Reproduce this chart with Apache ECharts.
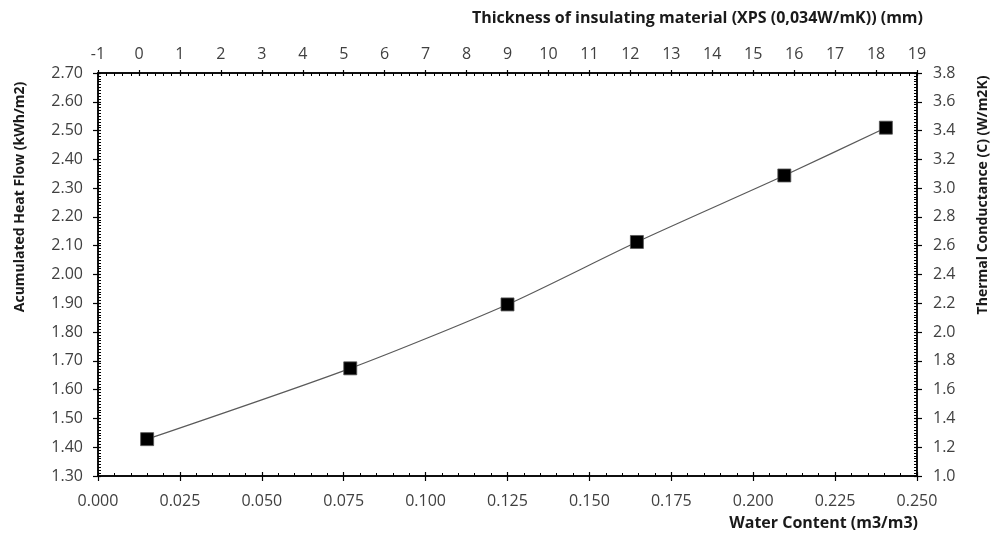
<!DOCTYPE html>
<html>
<head>
<meta charset="utf-8">
<script src="https://cdn.jsdelivr.net/npm/echarts@6/dist/echarts.min.js"></script>
<style>
html,body{margin:0;padding:0;background:#fff;}
#chart{width:993px;height:536px;}
</style>
</head>
<body>
<div id="chart"></div>
<script>
// Data
const waterContent = [0.015, 0.077, 0.125, 0.1645, 0.2095, 0.2405];
const heatFlow = [1.428, 1.674, 1.896, 2.113, 2.344, 2.51];

const bottomAxisName = 'Water Content (m3/m3)';
const topAxisName = 'Thickness of insulating material (XPS (0,034W/mK)) (mm)';
const leftAxisName = 'Acumulated Heat Flow (kWh/m2)';
const rightAxisName = 'Thermal Conductance (C) (W/m2K)';

const FONT = '"Open Sans", "DejaVu Sans", sans-serif';
const labelStyle = {color: '#404040', fontSize: 16, fontFamily: FONT};
const axisLine = {show: true, onZero: false, lineStyle: {color: '#000', width: 1.5}};

const chart = echarts.init(document.getElementById('chart'), null, {renderer: 'canvas'});

function pair(base, labelOpt, outsideLen, insideLen, minorSplit) {
  return [
    Object.assign({}, base, {
      axisLine: axisLine,
      axisTick: {show: true, inside: false, length: outsideLen, lineStyle: {color: '#000', width: 1.2}},
      minorTick: {show: false},
      axisLabel: labelOpt,
      splitLine: {show: false}
    }),
    Object.assign({}, base, {
      axisLine: axisLine,
      axisTick: {show: true, inside: true, length: insideLen, lineStyle: {color: '#000', width: 1.2}},
      minorTick: {show: true, splitNumber: minorSplit, length: 3, lineStyle: {color: '#000', width: 1}},
      axisLabel: {show: false},
      splitLine: {show: false}
    })
  ];
}

const xBottom = pair({type: 'value', position: 'bottom', min: 0, max: 0.25, interval: 0.025},
  Object.assign({show: true, margin: 17, formatter: v => v.toFixed(3)}, labelStyle), 5, 4, 5);
const xTop = pair({type: 'value', position: 'top', min: -1, max: 19, interval: 1},
  Object.assign({show: true, margin: 11, formatter: v => String(v)}, labelStyle), 3, 3, 5);
const yLeft = pair({type: 'value', position: 'left', min: 1.3, max: 2.7, interval: 0.1},
  Object.assign({show: true, margin: 15, formatter: v => v.toFixed(2)}, labelStyle), 5, 3, 10);
const yRight = pair({type: 'value', position: 'right', min: 1.0, max: 3.8, interval: 0.2},
  Object.assign({show: true, margin: 16, formatter: v => v.toFixed(1)}, labelStyle), 5, 3, 10);

const titleStyle = {fill: '#1a1a1a', fontSize: 16, fontWeight: 'bold', fontFamily: FONT};
const sideTitleStyle = {fill: '#1a1a1a', fontSize: 14, fontWeight: 'bold', fontFamily: FONT};

chart.setOption({
  animation: false,
  backgroundColor: '#fff',
  grid: {left: 98, right: 76, top: 73, bottom: 60, containLabel: false},
  xAxis: xBottom.concat(xTop),
  yAxis: yLeft.concat(yRight),
  series: [{
    type: 'line',
    xAxisIndex: 0,
    yAxisIndex: 0,
    data: waterContent.map((x, i) => [x, heatFlow[i]]),
    smooth: 0.25,
    symbol: 'rect',
    symbolSize: 13,
    itemStyle: {color: '#000', borderColor: '#555', borderWidth: 0.8},
    lineStyle: {color: '#5a5a5a', width: 1.2}
  }],
  graphic: [
    {type: 'text', right: 75, top: 515, style: Object.assign({text: bottomAxisName}, titleStyle)},
    {type: 'text', right: 70, top: 10, style: Object.assign({text: topAxisName, letterSpacing: 0.3}, titleStyle)},
    {type: 'text', x: 20, y: 197, rotation: Math.PI / 2,
      style: Object.assign({text: leftAxisName, align: 'center', verticalAlign: 'middle'}, sideTitleStyle)},
    {type: 'text', x: 983, y: 195, rotation: Math.PI / 2,
      style: Object.assign({text: rightAxisName, align: 'center', verticalAlign: 'middle'}, sideTitleStyle)}
  ]
});
</script>
</body>
</html>
